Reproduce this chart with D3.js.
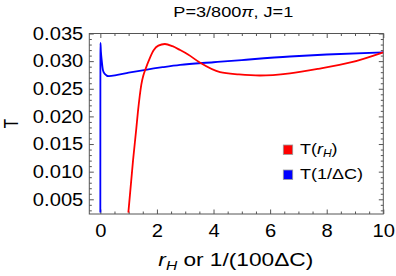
<!DOCTYPE html>
<html>
<head>
<meta charset="utf-8">
<script src="https://cdn.jsdelivr.net/npm/d3@7"></script>
<style>
  body { margin: 0; background: #fff; }
  svg { font-family: "Liberation Sans", Arial, sans-serif; }
</style>
</head>
<body>
<div id="chart"></div>
<script>
// values
const redX = [0.99, 1.155, 1.27, 1.33, 1.39, 1.45, 1.52, 1.60, 1.745, 1.89, 2.05, 2.28, 2.55, 2.82, 3.10, 3.53, 4.23, 4.9, 5.64, 6.70, 7.70, 8.88, 10];
const redT = [0.0026, 0.0120, 0.01775, 0.0209, 0.0236, 0.0258, 0.0274, 0.0286, 0.0305, 0.0320, 0.0328, 0.0331, 0.0327, 0.0320, 0.0312, 0.0297, 0.0280, 0.0276, 0.0274, 0.0278, 0.0286, 0.0298, 0.0316];

const blueX = [0.0, 0.004, 0.02, 0.05, 0.095, 0.155, 0.3, 0.6, 1.0, 1.6, 2.2, 2.82, 4.0, 5.0, 6.7, 8.0, 10];
const blueT = [0.0026, 0.0333, 0.0318, 0.0301, 0.0283, 0.0277, 0.02727, 0.0275, 0.0279, 0.02843, 0.0289, 0.02933, 0.0298, 0.0302, 0.03084, 0.0312, 0.0316];

const xMajor = [0, 2, 4, 6, 8, 10];
const yMajor = [0.005, 0.010, 0.015, 0.020, 0.025, 0.030, 0.035];
const legendLabels = ["T(rH)", "T(1/ΔC)"];
const legendColors = ["#ff0000", "#0000ff"];

const W = 396, H = 276;
const frame = {left: 89.3, right: 383.3, top: 33.5, bottom: 214};

const svg = d3.select("#chart").append("svg")
    .attr("width", W)
    .attr("height", H);

const x = d3.scaleLinear().domain([-0.39, 10]).range([frame.left, frame.right]);
const y = d3.scaleLinear().domain([0.00234, 0.035]).range([frame.bottom, frame.top]);

const xMinor = d3.range(0, 10.01, 0.5).filter(v => !xMajor.includes(v));
const yMinor = d3.range(0.003, 0.0351, 0.001).filter(v => !yMajor.some(m => Math.abs(m - v) < 1e-9));

const frameColor = "#555";

// the reference lettering is wider than Liberation Sans, stretch it sideways
function stretchX(sel, k) {
    sel.each(function() {
        const ax = +this.getAttribute("x") || 0;
        this.setAttribute("transform", `translate(${ax * (1 - k)},0) scale(${k},1)`);
    });
}

function styleAxis(g) {
    g.select(".domain").remove();
    g.selectAll(".tick line").attr("stroke", frameColor).attr("stroke-width", 1);
    g.selectAll("text").attr("fill", "#000").style("font-size", "18px");
    stretchX(g.selectAll("text"), 1.12);
}

// bottom axis with labels
svg.append("g")
    .attr("transform", `translate(0,${frame.bottom})`)
    .call(d3.axisBottom(x).tickValues(xMajor).tickSize(-4.5).tickPadding(10).tickFormat(d3.format("d")))
    .call(styleAxis);
svg.append("g")
    .attr("transform", `translate(0,${frame.bottom})`)
    .call(d3.axisBottom(x).tickValues(xMinor).tickSize(-2.5).tickFormat(""))
    .call(styleAxis);

// top axis, ticks only
svg.append("g")
    .attr("transform", `translate(0,${frame.top})`)
    .call(d3.axisTop(x).tickValues(xMajor).tickSize(-4.5).tickFormat(""))
    .call(styleAxis);
svg.append("g")
    .attr("transform", `translate(0,${frame.top})`)
    .call(d3.axisTop(x).tickValues(xMinor).tickSize(-2.5).tickFormat(""))
    .call(styleAxis);

// left axis with labels
svg.append("g")
    .attr("transform", `translate(${frame.left},0)`)
    .call(d3.axisLeft(y).tickValues(yMajor).tickSize(-4.5).tickPadding(6).tickFormat(d3.format(".3f")))
    .call(styleAxis);
svg.append("g")
    .attr("transform", `translate(${frame.left},0)`)
    .call(d3.axisLeft(y).tickValues(yMinor).tickSize(-2.5).tickFormat(""))
    .call(styleAxis);

// right axis, ticks only
svg.append("g")
    .attr("transform", `translate(${frame.right},0)`)
    .call(d3.axisRight(y).tickValues(yMajor).tickSize(-4.5).tickFormat(""))
    .call(styleAxis);
svg.append("g")
    .attr("transform", `translate(${frame.right},0)`)
    .call(d3.axisRight(y).tickValues(yMinor).tickSize(-2.5).tickFormat(""))
    .call(styleAxis);

// frame
svg.append("rect")
    .attr("x", frame.left)
    .attr("y", frame.top)
    .attr("width", frame.right - frame.left)
    .attr("height", frame.bottom - frame.top)
    .attr("fill", "none")
    .attr("stroke", frameColor)
    .attr("stroke-width", 1);

// curves
svg.append("clipPath").attr("id", "plot-clip")
    .append("rect")
    .attr("x", frame.left).attr("y", frame.top)
    .attr("width", frame.right - frame.left).attr("height", frame.bottom - frame.top);

const line = d3.line()
    .x(d => x(d[0]))
    .y(d => y(d[1]))
    .curve(d3.curveMonotoneX);

svg.append("path")
    .datum(blueX.map((v, i) => [v, blueT[i]]))
    .attr("clip-path", "url(#plot-clip)")
    .attr("fill", "none")
    .attr("stroke", "#0000ff")
    .attr("stroke-width", 1.8)
    .attr("d", line);

svg.append("path")
    .datum(redX.map((v, i) => [v, redT[i]]))
    .attr("clip-path", "url(#plot-clip)")
    .attr("fill", "none")
    .attr("stroke", "#ff0000")
    .attr("stroke-width", 1.8)
    .attr("d", line);

// title
const title = svg.append("text")
    .attr("x", 233.3)
    .attr("y", 16.7)
    .attr("text-anchor", "middle")
    .style("font-size", "15px");
title.append("tspan").text("P=3/800");
title.append("tspan").attr("font-style", "italic").text("π");
title.append("tspan").text(", J=1");
stretchX(title, 120 / title.node().getBBox().width);

// axis labels
const xLabel = svg.append("text")
    .attr("x", 235.8)
    .attr("y", 266)
    .attr("text-anchor", "middle")
    .style("font-size", "17.5px");
xLabel.append("tspan").attr("font-style", "italic").text("r");
xLabel.append("tspan").attr("font-style", "italic").attr("dy", 4).style("font-size", "12px").text("H");
xLabel.append("tspan").attr("dy", -4).text(" or 1/(100ΔC)");
stretchX(xLabel, 155 / xLabel.node().getBBox().width);

svg.append("text")
    .attr("transform", "translate(18.3,123.5) rotate(-90) scale(1,1.28)")
    .attr("text-anchor", "middle")
    .style("font-size", "15.5px")
    .text("T");

// legend
const legend = svg.append("g");
legendLabels.forEach((label, i) => {
    const row = legend.append("g").attr("transform", `translate(283.3,${145 + i * 25})`);
    row.append("rect")
        .attr("width", 9.4)
        .attr("height", 9.4)
        .attr("fill", legendColors[i])
        .attr("stroke", "#999")
        .attr("stroke-width", 0.8);
    const t = row.append("text")
        .attr("x", 16.7)
        .attr("y", 9.2)
        .style("font-size", "15px");
    if (label === "T(rH)") {
        t.append("tspan").text("T(");
        t.append("tspan").attr("font-style", "italic").text("r");
        t.append("tspan").attr("font-style", "italic").attr("dy", 3).style("font-size", "10px").text("H");
        t.append("tspan").attr("dy", -3).text(")");
    } else {
        t.text(label);
    }
    stretchX(t, 1.2);
});
</script>
</body>
</html>
